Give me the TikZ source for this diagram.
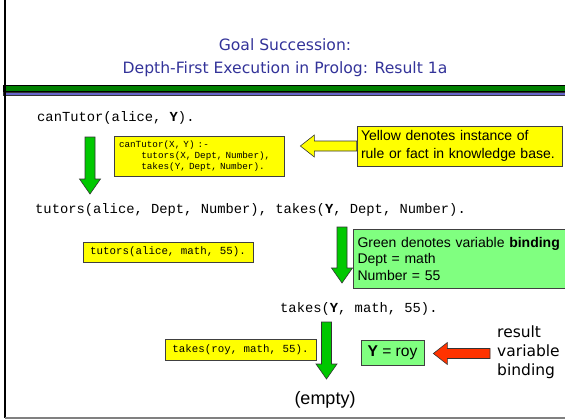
\documentclass[tikz,border=0pt]{standalone}
\usepackage{fontspec}
\usepackage{tikz}
\usetikzlibrary{calc,positioning}

\newfontfamily\helv{Liberation Sans}
\newfontfamily\cour{Liberation Mono}
\newfontfamily\comic{DejaVu Sans}

\definecolor{titleblue}{RGB}{51,51,153}
\definecolor{bandgreen}{RGB}{0,128,0}
\definecolor{bandblue}{RGB}{102,102,204}
\definecolor{factyellow}{RGB}{255,255,0}
\definecolor{bindgreen}{RGB}{128,255,128}
\definecolor{arrowgreen}{RGB}{0,200,0}
\definecolor{arrowred}{RGB}{255,51,0}

% block arrow pointing down, from #2 (top) to #3 (tip)
\newcommand{\downblock}[3]{%
  \filldraw[#1] ($(#2)+(-5,0)$) -- ($(#2)+(5,0)$) -- ($(#3)+(5,-15)$) -- ($(#3)+(10.5,-15)$)
    -- (#3) -- ($(#3)+(-10.5,-15)$) -- ($(#3)+(-5,-15)$) -- cycle;}
% block arrow pointing left, from #2 (tail) to #3 (tip)
\newcommand{\leftblock}[3]{%
  \filldraw[#1] ($(#2)+(0,-5)$) -- ($(#3)+(14,-5)$) -- ($(#3)+(14,-11)$)
    -- (#3) -- ($(#3)+(14,11)$) -- ($(#3)+(14,5)$) -- ($(#2)+(0,5)$) -- cycle;}

\begin{document}
\begin{tikzpicture}[x=1pt,y=-1pt,
    goal/.style={anchor=west,inner sep=0pt,font=\cour\fontsize{13.8}{16}\selectfont},
    fact/.style={draw=black!75,line width=0.7pt,fill=factyellow,inner sep=0pt},
    bind/.style={draw=black!75,line width=0.7pt,fill=bindgreen,inner sep=0pt},
    note/.style={align=left,inner xsep=4pt,font=\helv\fontsize{14}{18}\selectfont},
    garrow/.style={fill=arrowgreen,draw=black!80,line width=0.6pt},
    yarrow/.style={fill=factyellow,draw=black!80,line width=0.6pt},
    rarrow/.style={fill=arrowred,draw=black!80,line width=0.6pt}]
                \useasboundingbox (0,0) rectangle (565,420);

                % title and frame
                \node (title) [anchor=base,text=titleblue,font=\comic\fontsize{15.6}{18}\selectfont] at (285,51) {Goal Succession:};
                \node (subtitle) [anchor=base,text=titleblue,font=\comic\fontsize{15.6}{18}\selectfont] at (285,74) {Depth-First Execution in Prolog: Result 1a};
                \filldraw[fill=bandgreen,draw=black,line width=0.5pt] (3,85.5) rectangle (566,91);
                \filldraw[fill=bandblue,draw=black!80,line width=0.5pt] (3,92.5) rectangle (566,95.5);
                \draw[line width=1.2pt] (5,0) -- (5,418);
                \draw[line width=2.5pt,black!50] (5,418) -- (566,418);

                % goals
                \node (goal1) [goal] at (37,118) {canTutor(alice, \textbf{Y}).};
                \node (goal2) [goal] at (35,210) {tutors(alice, Dept, Number), takes(\textbf{Y}, Dept, Number).};
                \node (goal3) [goal] at (280,309) {takes(\textbf{Y}, math, 55).};
                \node (empty) [inner sep=0pt,font=\helv\fontsize{18}{20}\selectfont] at (325,400) {(empty)};

                % facts and notes
                \node (rule) [fact,minimum width=170pt,minimum height=40pt,text width=160pt,align=left,
                    font=\cour\fontsize{9.3}{11}\selectfont] at (199,156)
                    {canTutor(X, Y) :-\\\hspace*{22.3pt}tutors(X, Dept, Number),\\\hspace*{22.3pt}takes(Y, Dept, Number).};
                \node (kbnote) [fact,note,minimum height=40pt,text width=197pt] at (459.5,146)
                    {Yellow denotes instance of\\rule or fact in knowledge base.};
                \node (fact1) [fact,minimum width=170pt,minimum height=20pt,font=\cour\fontsize{10.8}{12}\selectfont] at (168,252) {tutors(alice, math, 55).};
                \node (fact2) [fact,minimum width=151pt,minimum height=21pt,font=\cour\fontsize{10.8}{12}\selectfont] at (240.5,349.5) {takes(roy, math, 55).};
                \node (bindnote) [bind,note,minimum height=59pt,text width=206pt,
                    font=\helv\fontsize{14}{16.5}\selectfont] at (460.5,258.5)
                    {Green denotes variable \textbf{binding}\\Dept = math\\Number = 55};
                \node (ybind) [bind,minimum width=63pt,minimum height=25pt,font=\helv\fontsize{15.6}{18}\selectfont] at (392.5,352.5) {\textbf{Y} = roy};
                \node (result) [anchor=west,inner sep=0pt,align=left,font=\comic\fontsize{15.5}{19}\selectfont] at (497,352) {result\\variable\\binding};

                % block arrows
                \coordinate (g1top) at (90,137);
                \coordinate (g1tip) at (90,194);
                \coordinate (g2top) at (342,227);
                \coordinate (g2tip) at (342,283);
                \coordinate (g3top) at (326.5,322);
                \coordinate (g3tip) at (326.5,379);
                \coordinate (kbtip) at ($(rule.east)+(16,-10)$);
                \coordinate (restail) at ($(result.west)+(-7,1.5)$);
                \coordinate (restip) at ($(ybind.east)+(9,1)$);
                \downblock{garrow}{g1top}{g1tip}
                \downblock{garrow}{g2top}{g2tip}
                \downblock{garrow}{g3top}{g3tip}
                \leftblock{yarrow}{kbnote.west}{kbtip}
                \leftblock{rarrow}{restail}{restip}
            \end{tikzpicture}
\end{document}
